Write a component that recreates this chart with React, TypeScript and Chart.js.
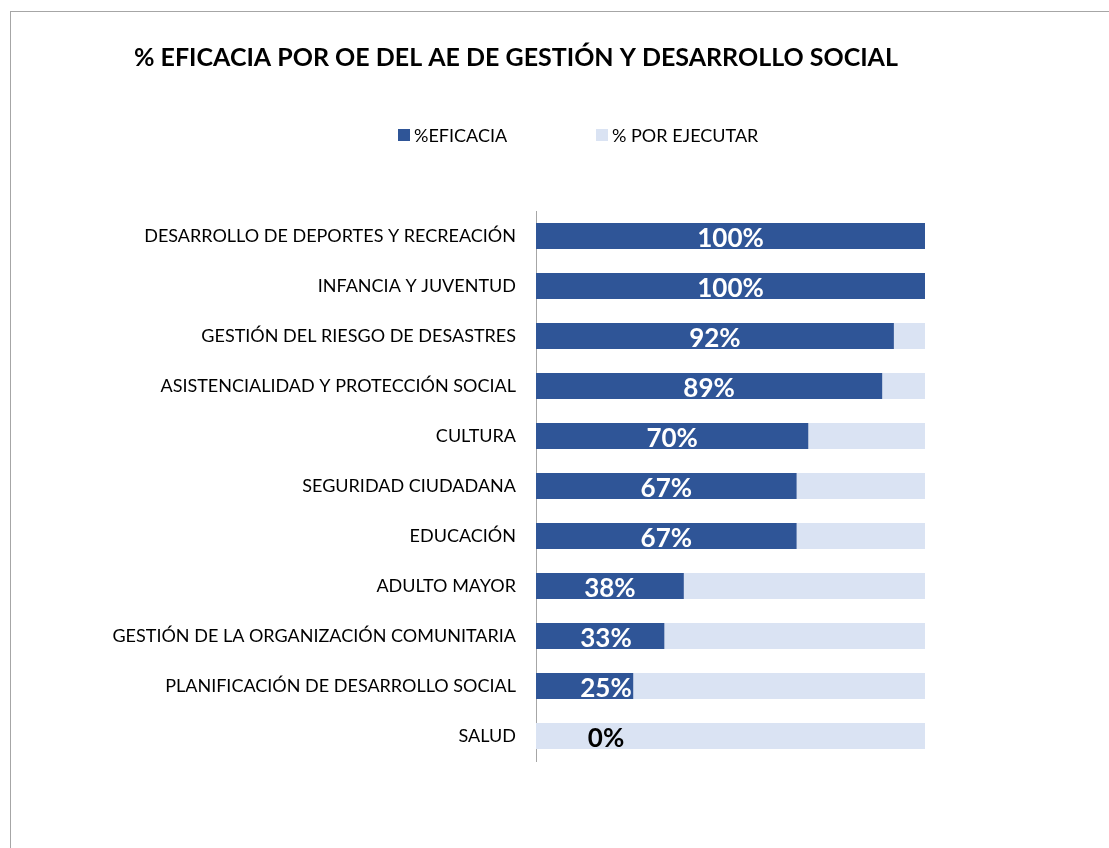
import React, { useEffect, useRef } from "react";
import { Chart, registerables } from "chart.js";

Chart.register(...registerables);

const categories = [
  "DESARROLLO DE DEPORTES Y RECREACIÓN",
  "INFANCIA Y JUVENTUD",
  "GESTIÓN DEL RIESGO DE DESASTRES",
  "ASISTENCIALIDAD Y PROTECCIÓN SOCIAL",
  "CULTURA",
  "SEGURIDAD CIUDADANA",
  "EDUCACIÓN",
  "ADULTO MAYOR",
  "GESTIÓN DE LA ORGANIZACIÓN COMUNITARIA",
  "PLANIFICACIÓN DE DESARROLLO SOCIAL",
  "SALUD",
];
const eficacia = [100, 100, 92, 89, 70, 67, 67, 38, 33, 25, 0];
const porEjecutar = [0, 0, 8, 11, 30, 33, 33, 62, 67, 75, 100];
const seriesNames = ["%EFICACIA", "% POR EJECUTAR"];
const titleText = "% EFICACIA POR OE DEL AE DE GESTIÓN Y DESARROLLO SOCIAL";

const FONT = "Lato, 'Open Sans', sans-serif";
const DARK = "#2F5597";
const LIGHT = "#DAE3F3";

const overlayPlugin = {
  id: "overlay",
  afterDatasetsDraw(chart: any) {
    const ctx = chart.ctx;
    const meta = chart.getDatasetMeta(0);
    const xs = chart.scales.x;
    const minX = xs.getPixelForValue(18);
    ctx.save();
    ctx.font = `bold 26px ${FONT}`;
    ctx.textAlign = "center";
    ctx.textBaseline = "middle";
    meta.data.forEach((el: any, i: number) => {
      const v = eficacia[i];
      const center = (el.x + el.base) / 2;
      const x = Math.max(center, minX);
      ctx.fillStyle = v > 0 ? "#ffffff" : "#000000";
      ctx.fillText(`${v}%`, x, el.y + 3);
    });
    ctx.restore();
  },
  afterDraw(chart: any) {
    const ctx = chart.ctx;
    ctx.save();
    // title
    ctx.font = `bold 25px ${FONT}`;
    ctx.fillStyle = "#000";
    ctx.textAlign = "center";
    ctx.textBaseline = "alphabetic";
    ctx.fillText(titleText, 516, 66);
    // legend
    ctx.font = `18px ${FONT}`;
    ctx.textAlign = "left";
    const items = [
      { x: 398, color: DARK },
      { x: 596, color: LIGHT },
    ];
    items.forEach((it, i) => {
      ctx.fillStyle = it.color;
      ctx.fillRect(it.x, 129, 12, 12);
      ctx.fillStyle = "#000";
      ctx.fillText(seriesNames[i], it.x + 16, 142);
    });
    ctx.restore();
  },
};

export default function App() {
  const ref = useRef<HTMLCanvasElement>(null);
  useEffect(() => {
    if (!ref.current) return;
    const chart = new Chart(ref.current, {
      type: "bar",
      data: {
        labels: categories,
        datasets: [
          {
            label: seriesNames[0],
            data: eficacia,
            backgroundColor: DARK,
            barPercentage: 0.52,
            categoryPercentage: 1,
          },
          {
            label: seriesNames[1],
            data: porEjecutar,
            backgroundColor: LIGHT,
            barPercentage: 0.52,
            categoryPercentage: 1,
          },
        ],
      },
      options: {
        indexAxis: "y",
        animation: false,
        responsive: false,
        layout: { padding: { left: 0, right: 184, top: 211, bottom: 87 } },
        plugins: {
          legend: { display: false },
          title: { display: false },
          tooltip: { enabled: false },
        },
        scales: {
          x: {
            stacked: true,
            min: 0,
            max: 100,
            display: false,
          },
          y: {
            stacked: true,
            grid: { display: false, drawTicks: false },
            border: { display: true, color: "#a6a6a6", width: 1 },
            ticks: {
              color: "#000",
              padding: 20,
              font: { family: FONT, size: 18 },
            },
            afterFit(scale: any) {
              scale.width = 536;
            },
          },
        },
      },
      plugins: [overlayPlugin],
    });
    return () => chart.destroy();
  }, []);

  return (
    <div style={{ position: "fixed", left: 0, top: 0, width: 1109, height: 848, overflow: "hidden", background: "#fff" }}>
      <div
        style={{
          position: "absolute",
          left: 10,
          top: 11,
          width: 1200,
          height: 1000,
          border: "1px solid #a6a6a6",
        }}
      />
      <canvas ref={ref} width={1109} height={848} style={{ position: "absolute", left: 0, top: 0 }} />
    </div>
  );
}
